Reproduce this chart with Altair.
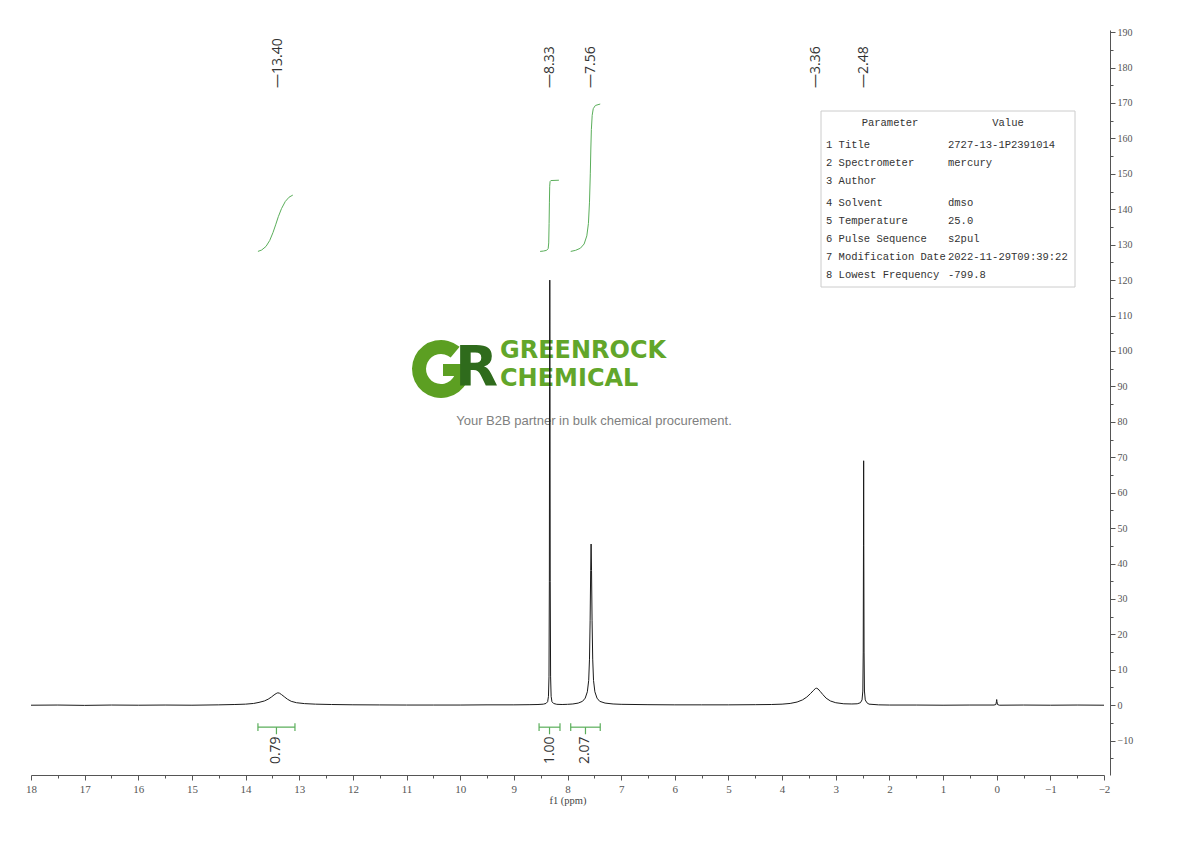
import altair as alt
import pandas as pd
import math

# ---------------- data ----------------
ppm = [18.0, 17.5, 17.0, 16.5, 16.0, 15.5, 15.0, 14.5, 14.2, 14.0, 13.85, 13.75, 13.65, 13.58, 13.52,
       13.47, 13.43, 13.40, 13.37, 13.33, 13.28, 13.22, 13.15, 13.05, 12.9, 12.7, 12.4, 12.0, 11.5,
       11.0, 10.5, 10.0, 9.5, 9.0, 8.7, 8.55, 8.45, 8.40, 8.37, 8.355, 8.345, 8.338, 8.334, 8.330,
       8.326, 8.322, 8.315, 8.305, 8.29, 8.26, 8.20, 8.10, 8.0, 7.90, 7.80, 7.72, 7.67, 7.63, 7.605,
       7.59, 7.578, 7.568, 7.560, 7.552, 7.542, 7.530, 7.515, 7.49, 7.45, 7.40, 7.30, 7.15, 7.0, 6.5,
       6.0, 5.5, 5.0, 4.5, 4.2, 4.0, 3.85, 3.72, 3.62, 3.54, 3.47, 3.42, 3.38, 3.36, 3.33, 3.29, 3.24,
       3.18, 3.10, 3.00, 2.85, 2.70, 2.60, 2.54, 2.51, 2.495, 2.488, 2.483, 2.480, 2.477, 2.472, 2.465,
       2.45, 2.42, 2.38, 2.2, 2.0, 1.5, 1.0, 0.5, 0.05, 0.015, 0.005, 0.0, -0.005, -0.015, -0.05,
       -0.5, -1.0, -1.5, -2.0]
intensity = [0.0, 0.05, -0.05, 0.05, 0.0, 0.05, 0.0, 0.1, 0.2, 0.3, 0.5, 0.8, 1.2, 1.7, 2.3,
             2.9, 3.3, 3.5, 3.4, 3.0, 2.4, 1.7, 1.1, 0.7, 0.45, 0.3, 0.2, 0.12, 0.08,
             0.05, 0.05, 0.05, 0.1, 0.1, 0.15, 0.2, 0.3, 0.5, 1.0, 2.5, 8, 35, 90, 120,
             90, 35, 8, 2.5, 1.0, 0.5, 0.25, 0.2, 0.25, 0.35, 0.6, 1.1, 2.0, 3.8, 7,
             13, 24, 38, 45.5, 38, 24, 13, 7, 3.8, 2.0, 1.1, 0.6, 0.35, 0.25, 0.15,
             0.1, 0.1, 0.1, 0.15, 0.2, 0.3, 0.5, 0.9, 1.5, 2.3, 3.3, 4.1, 4.7, 4.8, 4.6, 3.9, 3.0,
             2.0, 1.2, 0.7, 0.4, 0.35, 0.4, 0.7, 1.5, 4, 15, 45, 69, 45, 15, 4,
             1.5, 0.7, 0.3, 0.1, 0.05, 0.05, 0.0, 0.05, 0.05, 0.2, 1.0, 1.6, 1.0, 0.2, 0.0,
             0.05, 0.0, 0.05, 0.0]

peak_ppm = [13.40, 8.33, 7.56, 3.36, 2.48]
peak_labels = ["13.40", "8.33", "7.56", "3.36", "2.48"]

integral1_ppm = [13.77, 13.70, 13.62, 13.55, 13.49, 13.44, 13.39, 13.33, 13.26, 13.19, 13.12]
integral1_val = [128.1, 128.5, 129.5, 131.2, 133.4, 135.6, 137.9, 140.2, 142.2, 143.4, 144.0]
integral2_ppm = [8.51, 8.45, 8.39, 8.36, 8.35, 8.343, 8.337, 8.332, 8.325, 8.31, 8.16]
integral2_val = [128.1, 128.2, 128.4, 128.9, 130.5, 136.0, 142.0, 146.5, 147.8, 148.1, 148.2]
integral3_ppm = [7.94, 7.85, 7.76, 7.69, 7.64, 7.61, 7.59, 7.575, 7.565, 7.555, 7.54, 7.52, 7.48, 7.39]
integral3_val = [128.1, 128.4, 129.0, 130.2, 132.5, 136.0, 142.0, 150.0, 157.0, 162.5, 166.5, 168.4, 169.3, 169.7]

int_from = [13.77, 8.53, 7.94]
int_to = [13.08, 8.14, 7.39]
int_labels = ["0.79", "1.00", "2.07"]

param_names = ["1 Title", "2 Spectrometer", "3 Author", "4 Solvent", "5 Temperature",
               "6 Pulse Sequence", "7 Modification Date", "8 Lowest Frequency"]
param_values = ["2727-13-1P2391014", "mercury", "", "dmso", "25.0", "s2pul",
                "2022-11-29T09:39:22", "-799.8"]

# ---------------- styling / layout ----------------
W, H = 1073, 745
GREEN = "#5aae5a"
AXIS_GREY = "#555555"
SERIF = "Liberation Serif"

x_axis = alt.Axis(
    values=[18 - 0.5 * k for k in range(41)],
    labelExpr="datum.value % 1 === 0 ? format(datum.value, 'd') : ''",
    tickSize={"condition": {"test": "datum.value % 1 === 0", "value": 5}, "value": 3},
    labelOverlap=False, labelFlush=False, grid=False,
    domainColor=AXIS_GREY, tickColor=AXIS_GREY, labelColor=AXIS_GREY,
    labelFont=SERIF, labelFontSize=11, labelPadding=3,
    title="f1 (ppm)", titleFont=SERIF, titleFontSize=10.5, titleFontWeight="normal",
    titleColor="#444444", titlePadding=1,
)
y_axis = alt.Axis(
    orient="right", offset=6,
    values=[-15 + 5 * k for k in range(42)],
    labelExpr="datum.value % 10 === 0 ? format(datum.value, 'd') : ''",
    tickSize={"condition": {"test": "datum.value % 10 === 0", "value": 5}, "value": 3},
    labelOverlap=False, labelFlush=False, grid=False,
    domainColor=AXIS_GREY, tickColor=AXIS_GREY, labelColor=AXIS_GREY,
    labelFont=SERIF, labelFontSize=10, labelPadding=2, title=None,
)
x_scale = alt.Scale(domain=[-2, 18], reverse=True, nice=False, zero=False)
y_scale = alt.Scale(domain=[-19.7, 190.6], nice=False, zero=False)


def X(field, **kw):
    return alt.X(field, type="quantitative", scale=x_scale, axis=x_axis, **kw)


def Y(field, **kw):
    return alt.Y(field, type="quantitative", scale=y_scale, axis=y_axis, **kw)


one = pd.DataFrame({"a": [0]})


def label(text, px, py, **mk):
    return alt.Chart(one).mark_text(**mk).encode(
        x=alt.value(px), y=alt.value(py), text=alt.value(text))


layers = []

# ---- watermark logo ----
LOGO_LIGHT = "#5c9f22"
LOGO_DARK = "#2f6b1c"
WORD = "#62a62a"
# ring of the big "G"
layers.append(alt.Chart(one).mark_arc(
    theta=math.radians(90), theta2=math.radians(400), radius=29, radius2=15,
    color=LOGO_LIGHT).encode(x=alt.value(410), y=alt.value(339)))
# bar of the "G"
layers.append(alt.Chart(one).mark_rect(color=LOGO_LIGHT).encode(
    x=alt.value(412), x2=alt.value(439), y=alt.value(334), y2=alt.value(346)))
layers.append(label("R", 424, 355, font="DejaVu Sans", fontSize=56, fontWeight="bold",
                    color=LOGO_DARK, align="left", baseline="alphabetic"))
layers.append(label("GREENROCK", 469, 328, font="DejaVu Sans", fontSize=24,
                    fontWeight="bold", color=WORD, align="left", baseline="alphabetic"))
layers.append(label("CHEMICAL", 469, 356, font="DejaVu Sans", fontSize=24,
                    fontWeight="bold", color=WORD, align="left", baseline="alphabetic"))
layers.append(label("Your B2B partner in bulk chemical procurement.", 563, 391,
                    font="Liberation Sans", fontSize=13, color="#808080",
                    align="center", baseline="middle"))

# ---- parameter table ----
layers.append(alt.Chart(one).mark_rect(fill="white", stroke="#cccccc", strokeWidth=1).encode(
    x=alt.value(790), x2=alt.value(1044), y=alt.value(81), y2=alt.value(257)))
TABLE_FONT = dict(font="Liberation Mono", fontSize=10.5, color="#333333", baseline="middle")
layers.append(label("Parameter", 859, 93, align="center", **TABLE_FONT))
layers.append(label("Value", 977, 93, align="center", **TABLE_FONT))
row_y = [115, 133, 151, 173, 191, 209, 227, 245]
for name, val, ry in zip(param_names, param_values, row_y):
    layers.append(label(name, 795, ry, align="left", **TABLE_FONT))
    if val:
        layers.append(label(val, 917, ry, align="left", **TABLE_FONT))

# ---- spectrum ----
spec = pd.DataFrame({"ppm": ppm, "intensity": intensity})
layers.append(alt.Chart(spec).mark_line(color="#1a1a1a", strokeWidth=1, clip=True).encode(
    x=X("ppm"), y=Y("intensity"), order=alt.Order("ppm:Q")))

# ---- integral curves ----
integ = pd.concat([
    pd.DataFrame({"ppm": integral1_ppm, "val": integral1_val, "g": 1}),
    pd.DataFrame({"ppm": integral2_ppm, "val": integral2_val, "g": 2}),
    pd.DataFrame({"ppm": integral3_ppm, "val": integral3_val, "g": 3}),
])
layers.append(alt.Chart(integ).mark_line(color=GREEN, strokeWidth=1).encode(
    x=X("ppm"), y=Y("val"), detail="g:N", order=alt.Order("ppm:Q")))

# ---- integration brackets ----
BR_Y = -6.2
br = pd.DataFrame({"a": int_from, "b": int_to, "label": int_labels})
br["mid"] = (br["a"] + br["b"]) / 2
br["y"] = BR_Y
br["ylo"] = BR_Y - 1.1
br["yhi"] = BR_Y + 1.1
br["ytick"] = BR_Y - 2.0
br["ylab"] = BR_Y - 2.6
layers.append(alt.Chart(br).mark_rule(color=GREEN, strokeWidth=1.2).encode(
    x=X("a"), x2="b", y=Y("y")))
layers.append(alt.Chart(br).mark_rule(color=GREEN, strokeWidth=1.2).encode(
    x=X("a"), y=Y("ylo"), y2="yhi"))
layers.append(alt.Chart(br).mark_rule(color=GREEN, strokeWidth=1.2).encode(
    x=X("b"), y=Y("ylo"), y2="yhi"))
layers.append(alt.Chart(br).mark_rule(color=GREEN, strokeWidth=1.2).encode(
    x=X("mid"), y=Y("y"), y2="ytick"))
layers.append(alt.Chart(br).mark_text(angle=270, align="right", baseline="middle",
                                      font="Open Sans", fontSize=14, color="#333333").encode(
    x=X("mid"), y=Y("ylab"), text="label:N"))

# ---- peak labels ----
pk = pd.DataFrame({"ppm": peak_ppm, "label": ["\u2014" + s for s in peak_labels]})
layers.append(alt.Chart(pk).mark_text(angle=270, align="left", baseline="middle",
                                      font="Open Sans", fontSize=14, color="#333333").encode(
    x=X("ppm"), y=alt.value(58), text="label:N"))

chart = alt.layer(*layers).properties(
    width=W, height=H,
    padding={"left": 23, "top": 22, "right": 60, "bottom": 50},
    autosize=alt.AutoSizeParams(type="none"),
    background="white",
).configure_view(stroke=None)

chart.save("out.html", embed_options={"renderer": "svg", "actions": False})
